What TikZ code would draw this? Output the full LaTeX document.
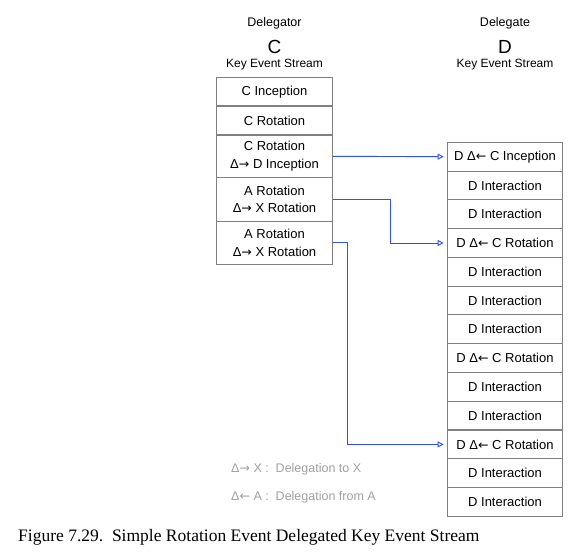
\documentclass[tikz,border=0pt]{standalone}
\usepackage{fontspec}
\setmainfont{Liberation Sans}
\newfontfamily\capfont{Liberation Serif}
\newfontfamily\symfont{DejaVu Sans}
\newcommand{\dto}{{\symfont\fontsize{12.5}{12}\selectfont →}}
\newcommand{\dfrom}{{\symfont\fontsize{12.5}{12}\selectfont ←}}
\usetikzlibrary{arrows.meta}
\definecolor{linkblue}{RGB}{45,80,250}
\definecolor{keygray}{RGB}{160,160,160}

\begin{document}
\begin{tikzpicture}[x=1pt,y=-1pt,inner sep=0pt,
	evt/.style={rectangle,draw=black!50,line width=1.1pt,minimum width=115.6,minimum height=28.77,align=center,font=\fontsize{13}{17.5}\selectfont},
	head/.style={font=\fontsize{12.5}{15}\selectfont},
	key/.style={anchor=west,text=keygray,font=\fontsize{12.5}{15}\selectfont},
	link/.style={draw=linkblue,line width=0.9pt,-{Triangle[open,length=6pt,width=6pt]},shorten >=3pt}]
	
	\useasboundingbox (0,0) rectangle (585,553);
	
	% delegator
	\node at (274.5,23) [head] (hc1) {Delegator};
	\node at (274.5,46.7) [font=\fontsize{19}{21}\selectfont] (hc2) {C};
	\node at (274.5,65) [head,font=\fontsize{12}{14}\selectfont] (hc3) {Key Event Stream};
	
	\node at (274.5,91.9) [evt,minimum height=28.3] (c1) {C Inception};
	\node at (274.5,120.5) [evt,minimum height=29] (c2) {C Rotation};
	\node at (274.5,156.3) [evt,minimum height=42.7] (c3) {C Rotation\\Δ\dto\ D Inception};
	\node at (274.5,199.6) [evt,minimum height=43.3] (c4) {A Rotation\\Δ\dto\ X Rotation};
	\node at (274.5,242.9) [evt,minimum height=43.3] (c5) {A Rotation\\Δ\dto\ X Rotation};
	
	% delegate
	\node at (505,23) [head] (hd1) {Delegate};
	\node at (505,46.7) [font=\fontsize{19}{21}\selectfont] (hd2) {D};
	\node at (505,65) [head,font=\fontsize{12}{14}\selectfont] (hd3) {Key Event Stream};
	
	\foreach \t [count=\i] in {D Δ\dfrom\ C Inception,D Interaction,D Interaction,D Δ\dfrom\ C Rotation,D Interaction,D Interaction,D Interaction,D Δ\dfrom\ C Rotation,D Interaction,D Interaction,D Δ\dfrom\ C Rotation,D Interaction,D Interaction}{
		\node at (505,{142.3+(\i-0.5)*28.77}) [evt] (d\i) {\t};
	};
	
	\path[link] (c3.east) -- (d1.west);
	\path[link] (c4.east) -- ++(58,0) |- (d4.west);
	\path[link] (c5.east) -- ++(15,0) |- (d11.west);
	
	% key
	\node at (231,469) [key] (k1) {Δ\dto\ X :\ \ Delegation to X};
	\node at (231,497.5) [key] (k2) {Δ\dfrom\ A :\ \ Delegation from A};
	
	\node at (18,537) [anchor=west,font=\capfont\fontsize{17.5}{20}\selectfont] (cap) {Figure 7.29.\ \ Simple Rotation Event Delegated Key Event Stream};
	
\end{tikzpicture}
\end{document}
